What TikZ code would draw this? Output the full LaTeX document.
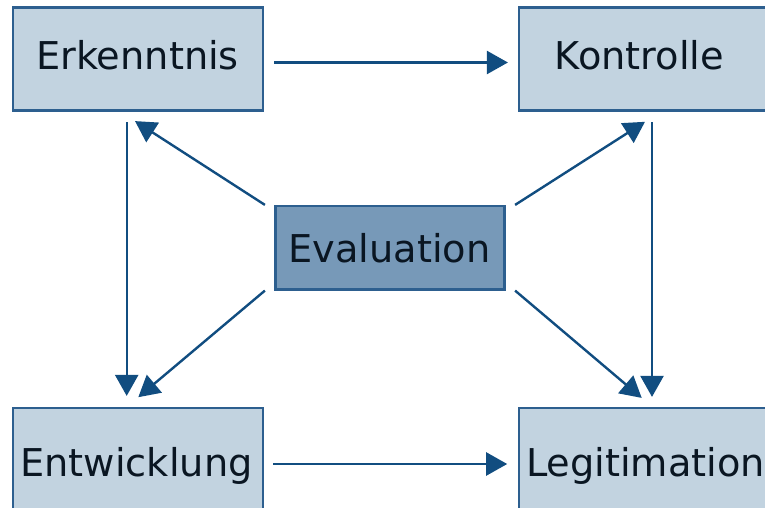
\documentclass[tikz,border=0pt]{standalone}
\usepackage{fontspec}
\setmainfont{DejaVu Sans}
\usetikzlibrary{arrows.meta}
\definecolor{boxfill}{HTML}{C2D3E0}
\definecolor{boxline}{HTML}{2D5F8F}
\definecolor{evalfill}{HTML}{7799B8}
\definecolor{arrowcol}{HTML}{114D80}
\definecolor{txt}{HTML}{0A1622}
\begin{document}
\begin{tikzpicture}[x=1pt,y=-1pt,
  box/.style={draw=boxline, line width=2.2pt, fill=boxfill, rectangle, inner sep=0pt, minimum width=250pt, minimum height=103pt},
  evalbox/.style={box, fill=evalfill, minimum width=229pt, minimum height=83.5pt},
  lbl/.style={anchor=base, inner sep=0pt, text=txt, font=\fontsize{38.3}{40}\selectfont},
  conn/.style={draw=arrowcol, line width=2.4pt, -{Triangle[length=21pt,width=23pt]}}]
\useasboundingbox (0,0) rectangle (765,508);
% boxes
\node[box] (erk) at (137.7,59) {};
\node[box] (kon) at (644.3,59) {};
\node[box] (ent) at (137.7,459.8) {};
\node[box] (leg) at (644.3,459.8) {};
\node[evalbox] (eva) at (390,247.75) {};
% labels
\node[lbl] (erkT) at (137.5,70) {Erkenntnis};
\node[lbl] (konT) at (639.5,70) {Kontrolle};
\node[lbl] (entT) at (136.5,476) {Entwicklung};
\node[lbl] (legT) at (645.5,476) {Legitimation};
\node[lbl] (evaT) at (389.5,262) {Evaluation};
% connectors
\draw[conn, shorten <=10.3pt, shorten >=10.3pt] ([yshift=-3.5pt]erk.east) -- ([yshift=-3.5pt]kon.west);
\draw[conn, shorten <=9.5pt, shorten >=11pt] ([yshift=-4.2pt]ent.east) -- ([yshift=-4.2pt]leg.west);
\draw[conn, shorten <=10.5pt, shorten >=11.3pt] ([xshift=-11pt]erk.south) -- ([xshift=-11pt]ent.north);
\draw[conn, shorten <=10.5pt, shorten >=10.3pt] ([xshift=7.7pt]kon.south) -- ([xshift=7.7pt]leg.north);
\draw[conn] ([xshift=-9.5pt]eva.north west) -- ([xshift=-2.7pt,yshift=-9.5pt]erk.south);
\draw[conn] ([xshift=-9.5pt]eva.south west) -- ([xshift=0.6pt,yshift=10pt]ent.north);
\draw[conn] ([xshift=9.5pt]eva.north east) -- ([xshift=0.7pt,yshift=-10.2pt]kon.south);
\draw[conn] ([xshift=9.5pt]eva.south east) -- ([xshift=-2.6pt,yshift=9.3pt]leg.north);
\end{tikzpicture}
\end{document}
